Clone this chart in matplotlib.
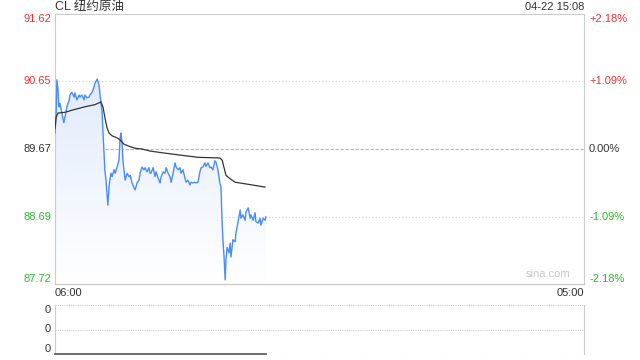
import numpy as np
import matplotlib
matplotlib.use("Agg")
import matplotlib.pyplot as plt
from matplotlib.colors import LinearSegmentedColormap

plt.rcParams['font.family'] = ['Liberation Sans', 'Noto Sans CJK SC', 'DejaVu Sans']

# 数据：分钟偏移（从 06:00 起）与价格
title = "CL 纽约原油"
stamp = "04-22 15:08"
prev_close = 89.67
y_ticks = [91.62, 90.65, 89.67, 88.69, 87.72]
pct_labels = ["+2.18%", "+1.09%", "0.00%", "-1.09%", "-2.18%"]
time_labels = ["06:00", "05:00"]
session_minutes = 1380

price_min = [0, 3, 5, 8, 10, 13, 18, 23, 26, 31, 37, 39, 44, 50, 52, 57, 63, 65, 70, 76,
             78, 83, 89, 91, 97, 102, 104, 110, 115, 117, 123, 125, 128, 130, 133, 138, 141, 143, 146, 149,
             154, 157, 162, 167, 170, 172, 175, 177, 180, 183, 188, 193, 196, 201, 206, 209, 214, 219, 222, 227,
             232, 235, 240, 245, 248, 250, 256, 261, 264, 269, 274, 277, 282, 287, 290, 295, 300, 303, 308, 313,
             316, 321, 326, 329, 334, 339, 342, 347, 352, 355, 360, 365, 368, 373, 378, 381, 386, 391, 394, 399,
             404, 407, 412, 417, 420, 425, 430, 433, 436, 438, 441, 444, 446, 449, 454, 457, 459, 462, 464, 470,
             472, 477, 483, 485, 490, 496, 498, 504, 509, 511, 517, 522, 524, 530, 535, 537, 543, 548, 550]
price = [89.90, 90.19, 90.67, 90.52, 90.28, 90.33, 90.19, 90.05, 90.13, 90.28, 90.38, 90.45, 90.49, 90.42, 90.48, 90.38, 90.45, 90.42, 90.45, 90.38,
         90.45, 90.41, 90.42, 90.45, 90.49, 90.57, 90.62, 90.68, 90.59, 90.48, 90.19, 89.94, 89.61, 89.37, 89.22, 88.86, 89.12, 89.22, 89.32, 89.27,
         89.37, 89.32, 89.41, 89.51, 89.84, 89.90, 89.76, 89.51, 89.37, 89.22, 89.32, 89.27, 89.29, 89.18, 89.11, 89.08, 89.18, 89.22, 89.32, 89.41,
         89.37, 89.40, 89.34, 89.40, 89.32, 89.32, 89.40, 89.27, 89.34, 89.25, 89.18, 89.27, 89.34, 89.32, 89.40, 89.32, 89.27, 89.19, 89.32, 89.47,
         89.41, 89.37, 89.40, 89.32, 89.37, 89.25, 89.19, 89.22, 89.15, 89.19, 89.18, 89.19, 89.18, 89.19, 89.34, 89.40, 89.41, 89.47, 89.42, 89.47,
         89.40, 89.41, 89.37, 89.50, 89.48, 89.37, 89.18, 89.12, 88.60, 88.36, 88.11, 87.78, 88.07, 88.25, 88.17, 88.31, 88.11, 88.25, 88.36, 88.33,
         88.46, 88.60, 88.79, 88.67, 88.72, 88.64, 88.76, 88.82, 88.67, 88.72, 88.64, 88.75, 88.62, 88.60, 88.67, 88.57, 88.67, 88.64, 88.69]

avg_min = [0, 3, 8, 26, 44, 78, 104, 120, 125, 130, 136, 141, 149, 162, 170, 180, 193, 209, 227, 248,
           287, 329, 373, 430, 436, 441, 446, 457, 470, 504, 548]
avg_price = [89.97, 90.13, 90.19, 90.20, 90.23, 90.28, 90.31, 90.35, 90.28, 90.13, 89.97, 89.90, 89.86, 89.83, 89.80, 89.74, 89.71, 89.68, 89.67, 89.64,
             89.61, 89.58, 89.55, 89.54, 89.51, 89.40, 89.29, 89.24, 89.19, 89.16, 89.12]

vol_min = [0, 550]
volume = [0, 0]
vol_labels = ["0", "0", "0"]

red = '#f23030'
green = '#2eb82e'
dark = '#333333'
edge = '#cccccc'

fig = plt.figure(figsize=(6.4, 3.6), dpi=100)
W, H = 640, 360

def box(x0, y0, x1, y1):
    return [x0 / W, 1 - y1 / H, (x1 - x0) / W, (y1 - y0) / H]

ax = fig.add_axes(box(55, 14, 584, 284))
ax.set_xlim(0, session_minutes)
ax.set_ylim(y_ticks[-1], y_ticks[0])

# 渐变填充
cmap = LinearSegmentedColormap.from_list('fill', ['#ffffff', '#d8e5fb'])
grad = np.linspace(0, 1, 256)[:, None]
im = ax.imshow(grad, extent=[0, session_minutes, y_ticks[-1], y_ticks[0]], origin='lower',
               aspect='auto', cmap=cmap, zorder=1)
poly = ax.fill_between(price_min, price, y_ticks[-1], color='none', lw=0)
im.set_clip_path(poly.get_paths()[0], transform=ax.transData)

ax.plot(price_min, price, color='#4a8cf5', lw=1.0, zorder=3)
ax.plot(avg_min, avg_price, color=dark, lw=0.9, zorder=4)

for v in [y_ticks[1], y_ticks[3]]:
    ax.axhline(v, color=edge, lw=0.8, ls=(0, (1, 2)), zorder=0)
ax.axhline(prev_close, color='#b8b8b8', lw=0.8, ls=(0, (3, 1.5)), zorder=0)

ax.set_xticks([])
ax.set_yticks([])
for s in ['left', 'top', 'right']:
    ax.spines[s].set_color(edge)
    ax.spines[s].set_linewidth(0.8)
ax.spines['bottom'].set_color('#cccccc')
ax.spines['bottom'].set_linewidth(1.0)

colors = [red, red, dark, green, green]
vas = ['top', 'center', 'center', 'center', 'bottom']
for v, lab, c, va in zip(y_ticks, pct_labels, colors, vas):
    ax.annotate(f"{v:.2f}", (0, v), xycoords=('axes fraction', 'data'), xytext=(-4, 0),
                textcoords='offset pixels', ha='right', va=va, color=c, fontsize=8)
    ax.annotate(lab, (1, v), xycoords=('axes fraction', 'data'), xytext=(5, 0),
                textcoords='offset pixels', ha='left', va=va, color=c, fontsize=8)

fig.text(55 / W, 1 - 7 / H, title, ha='left', va='center', fontsize=9, color=dark)
fig.text(584 / W, 1 - 7 / H, stamp, ha='right', va='center', fontsize=8, color=dark)
fig.text(55 / W, 1 - 293 / H, time_labels[0], ha='left', va='center', fontsize=8, color=dark)
fig.text(584 / W, 1 - 293 / H, time_labels[1], ha='right', va='center', fontsize=8, color=dark)
ax.text(0.975, 0.02, "sina.com", transform=ax.transAxes, ha='right', va='bottom',
        fontsize=8, color='#c8c8c8')

# 成交量面板
vx = fig.add_axes(box(55, 305, 584, 354))
vx.set_xlim(0, session_minutes)
vx.set_ylim(0, 1)
for v in [0, 0.5, 1]:
    vx.axhline(v, color=edge, lw=0.8, ls=(0, (1, 1)), zorder=0)
vx.plot(vol_min, volume, color='#555555', lw=1.2, zorder=3, clip_on=False)
vx.set_xticks([])
vx.set_yticks([])
for s in ['top', 'bottom']:
    vx.spines[s].set_visible(False)
for s in ['left', 'right']:
    vx.spines[s].set_color(edge)
    vx.spines[s].set_linewidth(0.8)
for v, lab, va in zip([1, 0.5, 0], vol_labels, ['top', 'center', 'bottom']):
    vx.annotate(lab, (0, v), xycoords=('axes fraction', 'data'), xytext=(-4, 0),
                textcoords='offset pixels', ha='right', va=va, color=dark, fontsize=8)

fig.savefig('out.png', dpi=100)
